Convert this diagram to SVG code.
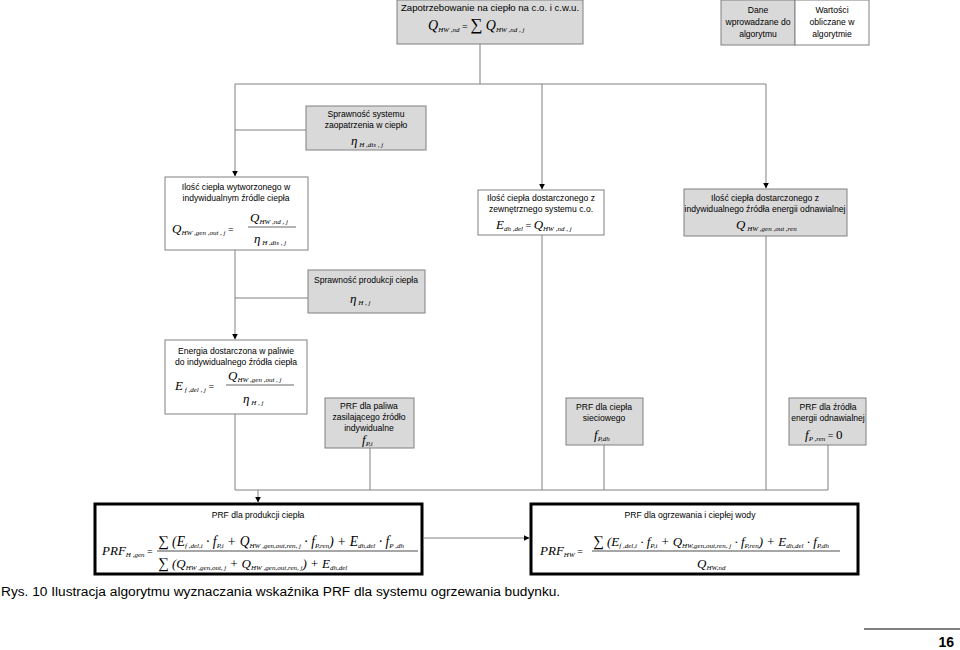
<svg xmlns="http://www.w3.org/2000/svg" width="960" height="650" viewBox="0 0 960 650">
<style>
.g{fill:#d9d9d9;stroke:#808080;stroke-width:1}
.w{fill:#fff;stroke:#808080;stroke-width:1}
.t{font-family:"Liberation Sans",Arial,sans-serif;font-size:8.6px;fill:#000;text-anchor:middle}
.m{font-family:"Liberation Serif","Times New Roman",serif;font-style:italic;font-size:13px;fill:#000}
.s{font-size:7px}
.c{fill:none;stroke:#808080;stroke-width:1}
.thick{fill:#fff;stroke:#000;stroke-width:3}
</style>
<defs>
<marker id="a" viewBox="0 0 10 10" refX="9" refY="5" markerWidth="6" markerHeight="6" orient="auto"><path d="M0,0L10,5L0,10z" fill="#000"/></marker>
</defs>
<rect width="960" height="650" fill="#fff"/>
<g id="connectors">
<path class="c" d="M480,44V84"/>
<path class="c" d="M235,84H766"/>
<path class="c" d="M235,84V176" marker-end="url(#a)"/>
<path class="c" d="M306,130H235"/>
<path class="c" d="M542,84V189" marker-end="url(#a)"/>
<path class="c" d="M766,84V188" marker-end="url(#a)"/>
<path class="c" d="M235,250V339" marker-end="url(#a)"/>
<path class="c" d="M308,298H235"/>
<path class="c" d="M235,414V490"/>
<path class="c" d="M370,448V490"/>
<path class="c" d="M542,235V490"/>
<path class="c" d="M604,445V490"/>
<path class="c" d="M766,236V490"/>
<path class="c" d="M828,445V490"/>
<path class="c" d="M235,490H828"/>
<path class="c" d="M258,490V502" marker-end="url(#a)"/>
<path class="c" d="M424,538H529" marker-end="url(#a)"/>
</g>
<g id="n_top">
<rect class="g" x="397" y="0" width="186" height="44"/>
<text class="t" x="490" y="11" style="font-size:9.6px">Zapotrzebowanie na ciepło na c.o. i c.w.u.</text>
<text class="m" x="428" y="30" style="font-size:14px">Q<tspan class="s" dy="2">HW ,nd</tspan><tspan dy="-2" font-style="normal" font-size="10">  =  </tspan><tspan font-style="normal" font-size="17">∑</tspan>  Q<tspan class="s" dy="2">HW ,nd , j</tspan></text>
</g>
<g id="legend">
<rect class="g" x="721" y="0" width="74" height="45"/>
<rect class="w" x="795" y="0" width="74" height="45"/>
<text class="t" x="758" y="13">Dane</text>
<text class="t" x="758" y="25">wprowadzane do</text>
<text class="t" x="758" y="37">algorytmu</text>
<text class="t" x="832" y="13">Wartości</text>
<text class="t" x="832" y="25">obliczane w</text>
<text class="t" x="832" y="37">algorytmie</text>
</g>
<g id="n_dis">
<rect class="g" x="306" y="106" width="120" height="44"/>
<text class="t" x="366" y="117">Sprawność systemu</text>
<text class="t" x="366" y="128">zaopatrzenia w ciepło</text>
<text class="m" x="351" y="145">η<tspan class="s" dy="2"> H ,dis , j</tspan></text>
</g>
<g id="n_genout">
<rect class="w" x="165" y="177" width="143" height="73"/>
<text class="t" x="236" y="190">Ilość ciepła wytworzonego w</text>
<text class="t" x="236" y="201">indywidualnym źródle ciepła</text>
<text class="m" x="172" y="233">Q<tspan class="s" dy="2">HW ,gen ,out , j</tspan><tspan dy="-2" font-style="normal" font-size="10">  =</tspan></text>
<text class="m" x="250" y="222">Q<tspan class="s" dy="2">HW ,nd , j</tspan></text>
<line x1="248" y1="227" x2="296" y2="227" stroke="#000" stroke-width="0.6"/>
<text class="m" x="254" y="243">η<tspan class="s" dy="2"> H ,dis , j</tspan></text>
</g>
<g id="n_dh">
<rect class="w" x="478" y="190" width="126" height="45"/>
<text class="t" x="541" y="201">Ilość ciepła dostarczonego z</text>
<text class="t" x="541" y="212">zewnętrznego systemu c.o.</text>
<text class="m" x="496" y="229">E<tspan class="s" dy="2">dh ,del</tspan><tspan dy="-2" font-style="normal" font-size="10">  =  </tspan>Q<tspan class="s" dy="2">HW ,nd , j</tspan></text>
</g>
<g id="n_ren">
<rect class="g" x="684" y="189" width="163" height="47"/>
<text class="t" x="765" y="201">Ilość ciepła dostarczonego z</text>
<text class="t" x="765" y="212">indywidualnego źródła energii odnawialnej</text>
<text class="m" x="736" y="229">Q<tspan class="s" dy="2"> HW  ,gen ,out ,ren</tspan></text>
</g>
<g id="n_hj">
<rect class="g" x="308" y="270" width="117" height="43"/>
<text class="t" x="366" y="283">Sprawność produkcji ciepła</text>
<text class="m" x="350" y="303">η<tspan class="s" dy="2"> H , j</tspan></text>
</g>
<g id="n_fdel">
<rect class="w" x="165" y="340" width="142" height="74"/>
<text class="t" x="236" y="354">Energia dostarczona w paliwie</text>
<text class="t" x="236" y="365">do indywidualnego źródła ciepła</text>
<text class="m" x="175" y="390">E<tspan class="s" dy="2"> f ,del , j</tspan><tspan dy="-2" font-style="normal" font-size="10">   =</tspan></text>
<text class="m" x="228" y="380">Q<tspan class="s" dy="2">HW ,gen ,out , j</tspan></text>
<line x1="226" y1="385" x2="294" y2="385" stroke="#000" stroke-width="0.6"/>
<text class="m" x="243" y="403">η<tspan class="s" dy="2"> H , j</tspan></text>
</g>
<g id="n_fpi">
<rect class="g" x="325" y="398" width="89" height="50"/>
<text class="t" x="369" y="409">PRF dla paliwa</text>
<text class="t" x="369" y="420">zasilającego źródło</text>
<text class="t" x="369" y="431">indywidualne</text>
<text class="m" x="362" y="444">f<tspan class="s" dy="2">P,i</tspan></text>
</g>
<g id="n_fdh">
<rect class="g" x="566" y="398" width="77" height="47"/>
<text class="t" x="604" y="410">PRF dla ciepła</text>
<text class="t" x="604" y="421">sieciowego</text>
<text class="m" x="594" y="439">f<tspan class="s" dy="2">P,dh</tspan></text>
</g>
<g id="n_fren">
<rect class="g" x="789" y="398" width="77" height="47"/>
<text class="t" x="828" y="410">PRF dla źródła</text>
<text class="t" x="828" y="421">energii odnawialnej</text>
<text class="m" x="805" y="439">f<tspan class="s" dy="2">P ,ren</tspan><tspan dy="-2" font-style="normal" font-size="10"> = </tspan><tspan font-style="normal">0</tspan></text>
</g>
<g id="n_prfh">
<rect class="thick" x="95" y="504" width="327" height="70"/>
<text class="t" x="258" y="518">PRF dla produkcji ciepła</text>
<text class="m" x="102" y="555">PRF<tspan class="s" dy="2">H ,gen</tspan><tspan dy="-2" font-style="normal" font-size="10"> =</tspan></text>
<text class="m" x="158" y="546" style="font-size:13.6px"><tspan font-style="normal" font-size="15">∑</tspan> (E<tspan class="s" dy="2">f ,del,i</tspan><tspan dy="-2"> · f</tspan><tspan class="s" dy="2">P,i</tspan><tspan dy="-2"> + Q</tspan><tspan class="s" dy="2">HW ,gen,out,ren, j</tspan><tspan dy="-2"> · f</tspan><tspan class="s" dy="2">P,ren</tspan><tspan dy="-2">) + E</tspan><tspan class="s" dy="2">dh,del</tspan><tspan dy="-2"> · f</tspan><tspan class="s" dy="2">P ,dh</tspan></text>
<line x1="157" y1="551" x2="418" y2="551" stroke="#000" stroke-width="0.7"/>
<text class="m" x="158" y="568"><tspan font-style="normal" font-size="15">∑</tspan> (Q<tspan class="s" dy="2">HW ,gen,out, j</tspan><tspan dy="-2"> + Q</tspan><tspan class="s" dy="2">HW ,gen,out,ren, j</tspan><tspan dy="-2">) + E</tspan><tspan class="s" dy="2">dh,del</tspan></text>
</g>
<g id="n_prfhw">
<rect class="thick" x="531" y="504" width="327" height="70"/>
<text class="t" x="690" y="518">PRF dla ogrzewania i ciepłej wody</text>
<text class="m" x="540" y="555">PRF<tspan class="s" dy="2">HW</tspan><tspan dy="-2" font-style="normal" font-size="10"> =</tspan></text>
<text class="m" x="593" y="546"><tspan font-style="normal" font-size="15">∑</tspan> (E<tspan class="s" dy="2">f ,del,i</tspan><tspan dy="-2"> · f</tspan><tspan class="s" dy="2">P,i</tspan><tspan dy="-2"> + Q</tspan><tspan class="s" dy="2">HW,gen,out,ren, j</tspan><tspan dy="-2"> · f</tspan><tspan class="s" dy="2">P,ren</tspan><tspan dy="-2">) + E</tspan><tspan class="s" dy="2">dh,del</tspan><tspan dy="-2"> · f</tspan><tspan class="s" dy="2">P,dh</tspan></text>
<line x1="592" y1="551" x2="840" y2="551" stroke="#000" stroke-width="0.7"/>
<text class="m" x="697" y="568">Q<tspan class="s" dy="2">HW,nd</tspan></text>
</g>
<text x="1" y="596" font-family="Liberation Sans,Arial,sans-serif" font-size="13.7px">Rys. 10 Ilustracja algorytmu wyznaczania wskaźnika PRF dla systemu ogrzewania budynku.</text>
<path d="M864,629H960" stroke="#000" stroke-width="1"/>
<text x="954" y="647" font-family="Liberation Sans,Arial,sans-serif" font-size="14px" font-weight="bold" text-anchor="end">16</text>
</svg>
